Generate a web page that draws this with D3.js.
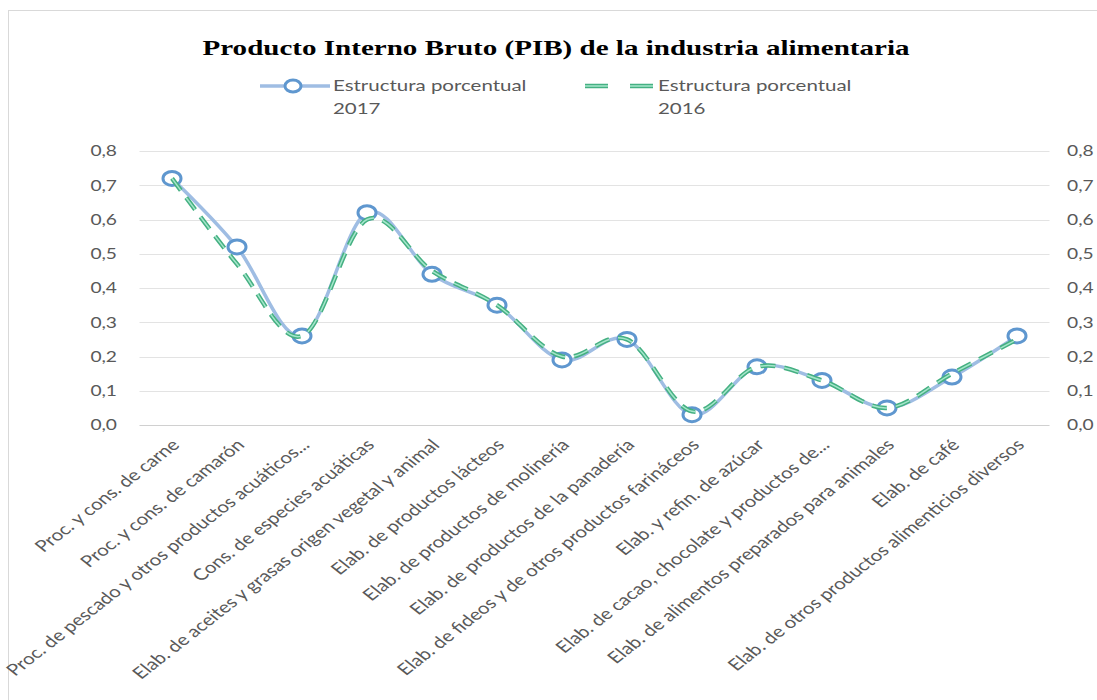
<!DOCTYPE html>
<html>
<head>
<meta charset="utf-8">
<script src="https://cdn.jsdelivr.net/npm/d3@7"></script>
<style>
  body { margin: 0; background: #fff; }
  svg { display: block; }
</style>
</head>
<body>
<div id="chart"></div>
<script>
// data
var categories = [
	"Proc. y cons. de carne",
	"Proc. y cons. de camarón",
	"Proc. de pescado y otros productos acuáticos...",
	"Cons. de especies acuáticas",
	"Elab. de aceites y grasas origen vegetal y animal",
	"Elab. de productos lácteos",
	"Elab. de productos de molinería",
	"Elab. de productos de la panadería",
	"Elab. de fideos y de otros productos farináceos",
	"Elab. y refin. de azúcar",
	"Elab. de cacao, chocolate y productos de...",
	"Elab. de alimentos preparados para animales",
	"Elab. de café",
	"Elab. de otros productos alimenticios diversos"
];
var values2017 = [0.72, 0.52, 0.26, 0.62, 0.44, 0.35, 0.19, 0.25, 0.03, 0.17, 0.13, 0.05, 0.14, 0.26];
var values2016 = [0.72, 0.47, 0.26, 0.60, 0.45, 0.35, 0.20, 0.25, 0.04, 0.17, 0.13, 0.05, 0.15, 0.25];
var yTicks = [0, 0.1, 0.2, 0.3, 0.4, 0.5, 0.6, 0.7, 0.8];
var seriesNames = ["Estructura porcentual 2017", "Estructura porcentual 2016"];
var titleText = "Producto Interno Bruto (PIB) de la industria alimentaria";

var w = 1097, h = 700;
var sx = 1.28; // the original picture is stretched sideways
var plotLeft = 139.5, plotRight = 1049.5, plotTop = 151, plotBottom = 425;
var labelFont = "Lato, 'Open Sans', sans-serif";
var textColor = "#595959";

var svg = d3.select("#chart").append("svg")
	.attr("width", w)
	.attr("height", h);

// frame
svg.append("rect")
	.attr("x", 8.5).attr("y", 10.5)
	.attr("width", w).attr("height", h)
	.attr("fill", "none")
	.attr("stroke", "#d9d9d9");

var x = d3.scalePoint()
	.domain(categories)
	.range([plotLeft, plotRight])
	.padding(0.5);

var y = d3.scaleLinear()
	.domain([0, 0.8])
	.range([plotBottom, plotTop]);

var fmt = function(d) { return d.toFixed(1).replace(".", ","); };

// title
svg.append("text")
	.attr("x", 556)
	.attr("y", 55)
	.attr("text-anchor", "middle")
	.attr("textLength", 707)
	.attr("lengthAdjust", "spacingAndGlyphs")
	.style("font-family", "'Liberation Serif', 'Times New Roman', serif")
	.style("font-weight", "bold")
	.style("font-size", "22px")
	.attr("fill", "#000")
	.text(titleText);

// gridlines
svg.append("g")
	.selectAll("line")
	.data(yTicks)
	.enter().append("line")
	.attr("x1", plotLeft).attr("x2", plotRight)
	.attr("y1", function(d) { return Math.round(y(d)) + 0.5; })
	.attr("y2", function(d) { return Math.round(y(d)) + 0.5; })
	.attr("stroke", function(d) { return d == 0 ? "#d0d0d0" : "#e3e3e3"; })
	.attr("stroke-width", 1.2);

// left axis
var yAxisL = d3.axisLeft(y).tickValues(yTicks).tickFormat(fmt).tickSize(0).tickPadding(0);
var gl = svg.append("g")
	.attr("transform", "translate(117,0)")
	.call(yAxisL);
gl.select(".domain").remove();
gl.selectAll("text")
	.attr("x", 0)
	.attr("transform", "scale(" + sx + ",1)")
	.style("font-family", labelFont)
	.style("font-size", "15px")
	.attr("fill", textColor);

// right axis
var yAxisR = d3.axisRight(y).tickValues(yTicks).tickFormat(fmt).tickSize(0).tickPadding(0);
var gr = svg.append("g")
	.attr("transform", "translate(1067,0)")
	.call(yAxisR);
gr.select(".domain").remove();
gr.selectAll("text")
	.attr("x", 0)
	.attr("transform", "scale(" + sx + ",1)")
	.style("font-family", labelFont)
	.style("font-size", "15px")
	.attr("fill", textColor);

// category axis
var xAxis = d3.axisBottom(x).tickSize(0);
var gx = svg.append("g")
	.attr("transform", "translate(0," + plotBottom + ")")
	.call(xAxis);
gx.select(".domain").remove();
gx.selectAll("text")
	.attr("x", 0).attr("y", 0)
	.attr("dy", "0.35em")
	.attr("text-anchor", "end")
	.attr("transform", "translate(3,17) scale(" + sx + ",1) rotate(-45)")
	.style("font-family", labelFont)
	.style("font-size", "16px")
	.attr("fill", textColor);

// lines
var line2017 = d3.line()
	.x(function(d, i) { return x(categories[i]); })
	.y(function(d) { return y(d); })
	.curve(d3.curveCatmullRom.alpha(0));

var line2016 = d3.line()
	.x(function(d, i) { return x(categories[i]); })
	.y(function(d) { return y(d); })
	.curve(d3.curveCatmullRom.alpha(0));

svg.append("path")
	.datum(values2017)
	.attr("fill", "none")
	.attr("stroke", "#9fbde3")
	.attr("stroke-width", 3.5)
	.attr("d", line2017);

svg.selectAll(".marker")
	.data(values2017)
	.enter().append("ellipse")
	.attr("class", "marker")
	.attr("cx", function(d, i) { return x(categories[i]); })
	.attr("cy", function(d) { return y(d); })
	.attr("rx", 9)
	.attr("ry", 7)
	.attr("fill", "#fff")
	.attr("stroke", "#5f97cf")
	.attr("stroke-width", 3);

svg.append("path")
	.datum(values2016)
	.attr("fill", "none")
	.attr("stroke", "#45b082")
	.attr("stroke-width", 4.5)
	.attr("stroke-dasharray", "15,9")
	.attr("d", line2016);
svg.append("path")
	.datum(values2016)
	.attr("fill", "none")
	.attr("stroke", "#a5e6cb")
	.attr("stroke-width", 1.5)
	.attr("stroke-dasharray", "15,9")
	.attr("d", line2016);

// legend
var lg = svg.append("g");
lg.append("line")
	.attr("x1", 260).attr("x2", 330).attr("y1", 86).attr("y2", 86)
	.attr("stroke", "#9fbde3").attr("stroke-width", 3.5);
lg.append("ellipse")
	.attr("cx", 293).attr("cy", 86).attr("rx", 8).attr("ry", 6)
	.attr("fill", "#fff").attr("stroke", "#5f97cf").attr("stroke-width", 3);
lg.append("line")
	.attr("x1", 585).attr("x2", 653).attr("y1", 86).attr("y2", 86)
	.attr("stroke", "#45b082").attr("stroke-width", 4.5)
	.attr("stroke-dasharray", "23,22");
lg.append("line")
	.attr("x1", 585).attr("x2", 653).attr("y1", 86).attr("y2", 86)
	.attr("stroke", "#a5e6cb").attr("stroke-width", 1.5)
	.attr("stroke-dasharray", "23,22");

var legendX = [333, 658];
seriesNames.forEach(function(name, i) {
	var words = name.split(" ");
	var t = lg.append("text")
		.attr("transform", "translate(" + legendX[i] + ",0) scale(" + sx + ",1)")
		.style("font-family", labelFont)
		.style("font-size", "16px")
		.attr("fill", textColor);
	t.append("tspan").attr("x", 0).attr("y", 91).text(words.slice(0, 2).join(" "));
	t.append("tspan").attr("x", 0).attr("y", 114).text(words[2]);
});
</script>
</body>
</html>
